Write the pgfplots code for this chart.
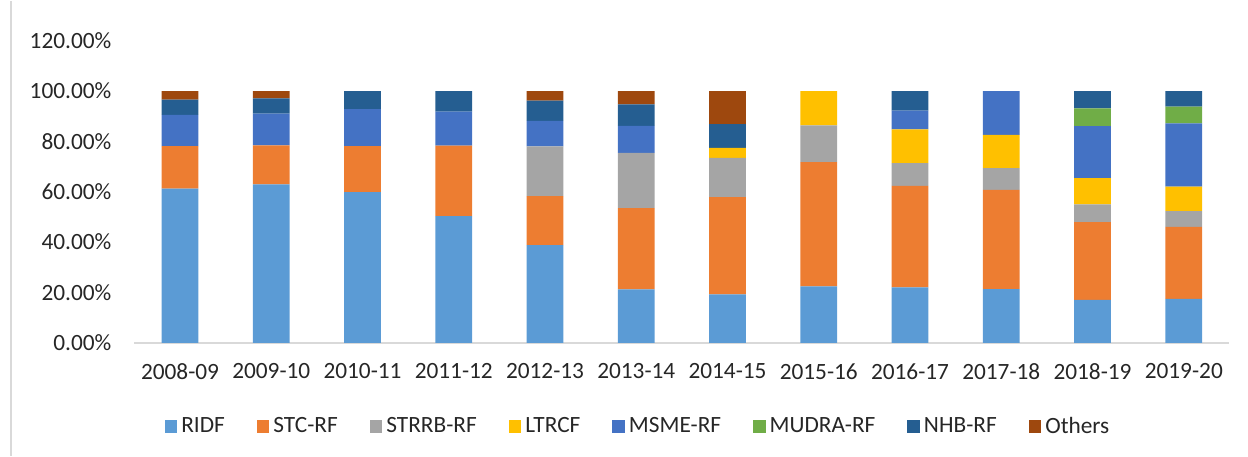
\documentclass[border=0pt]{standalone}
\usepackage{fontspec}
\setmainfont{Carlito}
\usepackage{pgfplots}
\usepackage{pgfplotstable}
\pgfplotsset{compat=1.18}

\definecolor{cRIDF}{HTML}{5B9BD5}
\definecolor{cSTC}{HTML}{ED7D31}
\definecolor{cSTRRB}{HTML}{A5A5A5}
\definecolor{cLTRCF}{HTML}{FFC000}
\definecolor{cMSME}{HTML}{4472C4}
\definecolor{cMUDRA}{HTML}{70AD47}
\definecolor{cNHB}{HTML}{255E91}
\definecolor{cOthers}{HTML}{9E480E}

\pgfplotstableread{
x RIDF STC STRRB LTRCF MSME MUDRA NHB Others
0 61.2 16.9 0 0 12.4 0 6.1 3.4
1 62.9 15.5 0 0 12.6 0 6.1 2.9
2 59.9 18.2 0 0 14.7 0 7.2 0
3 50.3 28.0 0 0 13.5 0 8.2 0
4 38.8 19.5 19.7 0 10.2 0 8.0 3.8
5 21.2 32.3 21.9 0 10.8 0 8.5 5.3
6 19.2 38.7 15.6 3.9 0 0 9.5 13.1
7 22.4 49.4 14.6 13.6 0 0 0 0
8 22.0 40.3 9.1 13.4 7.4 0 7.8 0
9 21.3 39.4 8.7 13.2 17.4 0 0 0
10 17.0 30.9 7.1 10.4 20.7 7.0 6.9 0
11 17.4 28.6 6.3 9.7 25.2 6.6 6.2 0
}\data

\begin{document}
\begin{tikzpicture}[font=\fontsize{11.7}{14}\selectfont]
\begin{axis}[
  scale only axis, width=547.5bp, height=151bp,
  ybar stacked, bar width=18.35bp,
  xmin=-0.5, xmax=11.5, ymin=0, ymax=120,
  xtick={0,...,11},
  xticklabels={2008-09,2009-10,2010-11,2011-12,2012-13,2013-14,2014-15,2015-16,2016-17,2017-18,2018-19,2019-20},
  ytick={0,20,...,120},
  /pgf/number format/assume math mode=true,
  yticklabel={\pgfmathprintnumber[fixed,fixed zerofill,precision=2]{\tick}\%},
  axis x line*=bottom, axis y line*=left,
  y axis line style={draw=none},
  x axis line style={draw=black!15, line width=0.75bp},
  major tick length=0pt,
  xticklabel shift=7bp, yticklabel shift=8bp,
  tick label style={text=black!85},
  legend style={at={(0.4608,-0.278)}, anchor=center, draw=none, fill=none,
    legend columns=8, text=black!85,
    /tikz/every even column/.append style={column sep=14bp},
    cells={anchor=west}},
  legend image code/.code={\fill[#1] (0bp,-3.2bp) rectangle (6.3bp,3.4bp);},
]
\addplot[fill=cRIDF, draw=none] table[x=x,y=RIDF]{\data};
\addlegendentry{RIDF}
\addplot[fill=cSTC, draw=none] table[x=x,y=STC]{\data};
\addlegendentry{STC-RF}
\addplot[fill=cSTRRB, draw=none] table[x=x,y=STRRB]{\data};
\addlegendentry{STRRB-RF}
\addplot[fill=cLTRCF, draw=none] table[x=x,y=LTRCF]{\data};
\addlegendentry{LTRCF}
\addplot[fill=cMSME, draw=none] table[x=x,y=MSME]{\data};
\addlegendentry{MSME-RF}
\addplot[fill=cMUDRA, draw=none] table[x=x,y=MUDRA]{\data};
\addlegendentry{MUDRA-RF}
\addplot[fill=cNHB, draw=none] table[x=x,y=NHB]{\data};
\addlegendentry{NHB-RF}
\addplot[fill=cOthers, draw=none] table[x=x,y=Others]{\data};
\addlegendentry{Others}
\coordinate (sw) at (rel axis cs:0,0);
\end{axis}
\path (sw) ++(-67.2bp,-56.5bp) rectangle ++(624bp,227.5bp);
\draw[black!15, line width=0.75bp] (sw) ++(-61.7bp,-56.5bp) -- ++(0,227.5bp);
\end{tikzpicture}
\end{document}
